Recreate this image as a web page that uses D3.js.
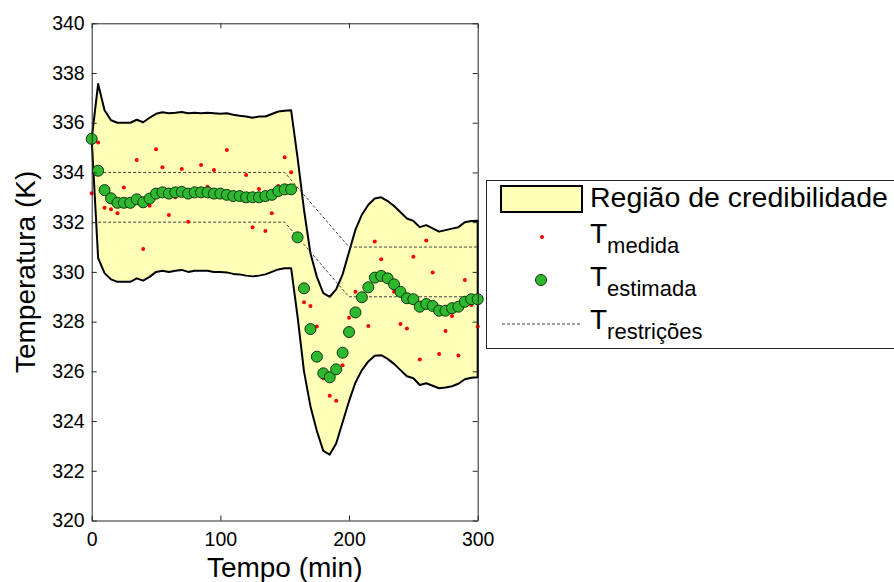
<!DOCTYPE html>
<html>
<head>
<meta charset="utf-8">
<script src="https://cdn.jsdelivr.net/npm/d3@7"></script>
<style>
  body { margin: 0; background: #fff; }
  text { font-family: "Liberation Sans", Arial, sans-serif; fill: #000; }
</style>
</head>
<body>
<div id="chart"></div>
<script>
// time grid (min), one sample every 5 min
const tempo = d3.range(0, 301, 5)

// measured temperature (red dots)
const tMedida = [333.16, 335.21, 332.58, 332.52, 332.36, 333.40, 332.90, 334.50, 330.92, 332.66,
    334.93, 334.21, 332.29, 333.00, 334.14, 332.02, 333.15, 334.30, 333.43, 334.10,
    333.20, 334.90, 333.00, 333.10, 333.90, 331.80, 333.33, 331.65, 332.36, 333.46,
    334.61, 334.01, 331.50, 328.78, 328.63, 327.80, 325.72, 325.02, 324.82, 326.25,
    328.16, 329.20, 329.00, 327.82, 331.22, 330.51, 329.60, 329.20, 327.90, 327.72,
    330.61, 326.48, 331.26, 329.98, 326.70, 327.62, 328.23, 326.64, 329.67, 328.67,
    327.80]

// estimated temperature (green circles)
const tEstimada = [335.35, 334.07, 333.29, 332.96, 332.78, 332.78, 332.78, 332.92, 332.80, 332.95,
    333.15, 333.20, 333.15, 333.20, 333.22, 333.15, 333.20, 333.20, 333.20, 333.15,
    333.15, 333.10, 333.05, 333.05, 333.00, 333.00, 333.00, 333.05, 333.10, 333.25,
    333.32, 333.32, 331.39, 329.34, 327.70, 326.59, 325.92, 325.76, 326.08, 326.75,
    327.58, 328.37, 328.98, 329.38, 329.77, 329.84, 329.74, 329.50, 329.20, 328.94,
    328.90, 328.60, 328.71, 328.63, 328.44, 328.44, 328.54, 328.60, 328.80, 328.90,
    328.90]

// credibility region bounds
const regiaoSup = [335.35, 337.56, 336.50, 336.10, 336.00, 336.00, 336.00, 336.12, 336.02, 336.20,
    336.36, 336.42, 336.38, 336.40, 336.43, 336.38, 336.40, 336.38, 336.40, 336.38,
    336.36, 336.38, 336.32, 336.28, 336.25, 336.20, 336.25, 336.25, 336.35, 336.45,
    336.48, 336.50, 334.60, 332.50, 330.75, 329.80, 329.15, 329.00, 329.30, 329.90,
    330.80, 331.70, 332.30, 332.70, 332.95, 333.00, 332.85, 332.65, 332.40, 332.15,
    332.05, 331.80, 331.88, 331.75, 331.62, 331.68, 331.74, 331.80, 332.00, 332.05,
    332.06]
const regiaoInf = [335.35, 330.55, 329.95, 329.70, 329.60, 329.60, 329.60, 329.74, 329.65, 329.80,
    330.00, 330.05, 330.00, 330.05, 330.08, 330.00, 330.05, 330.05, 330.05, 330.00,
    330.00, 329.98, 329.92, 329.90, 329.85, 329.82, 329.85, 329.90, 330.00, 330.10,
    330.15, 330.15, 328.20, 326.00, 324.60, 323.60, 322.80, 322.65, 323.10, 323.95,
    324.80, 325.55, 326.05, 326.40, 326.63, 326.65, 326.50, 326.30, 326.05, 325.80,
    325.72, 325.45, 325.52, 325.42, 325.32, 325.35, 325.40, 325.50, 325.68, 325.74,
    325.76]

// constraint limits (dashed)
const restTempo = [5, 150, 200, 300]
const restSup = [334, 334, 331, 331]
const restInf = [332, 332, 329, 329]

const xTicks = [0, 100, 200, 300]
const yTicks = d3.range(320, 341, 2)

const series = tempo.map((t, i) => ({
    t,
    med: tMedida[i],
    est: tEstimada[i],
    sup: regiaoSup[i],
    inf: regiaoInf[i]
}))

// Set dimensions
const width = 894
const height = 582
const plot = { left: 91.7, right: 477.7, top: 23.3, bottom: 520.5 }

const svg = d3.select("#chart").append("svg")
    .attr("width", width)
    .attr("height", height)

// Create scales
const xScale = d3.scaleLinear()
    .domain([0, 300])
    .range([plot.left, plot.right])

const yScale = d3.scaleLinear()
    .domain([320, 340])
    .range([plot.bottom, plot.top])

// Credibility region
const area = d3.area()
    .x(d => xScale(d.t))
    .y0(d => yScale(d.inf))
    .y1(d => yScale(d.sup))

svg.append("path")
    .datum(series)
    .attr("d", area)
    .attr("fill", "#ffffb8")
    .attr("stroke", "#000")
    .attr("stroke-width", 2)
    .attr("stroke-linejoin", "round")

// Constraint lines
const restLine = key => d3.line()
    .x((d, i) => xScale(d))
    .y((d, i) => yScale(key[i]))

;[restSup, restInf].forEach(vals => {
    svg.append("path")
        .attr("d", restLine(vals)(restTempo))
        .attr("fill", "none")
        .attr("stroke", "#444")
        .attr("stroke-width", 1)
        .attr("stroke-dasharray", "3,2")
})

// Measured points
svg.append("g").selectAll("circle")
    .data(series)
    .join("circle")
    .attr("cx", d => xScale(d.t))
    .attr("cy", d => yScale(d.med))
    .attr("r", 2)
    .attr("fill", "#ff0000")

// Estimated points
svg.append("g").selectAll("circle")
    .data(series)
    .join("circle")
    .attr("cx", d => xScale(d.t))
    .attr("cy", d => yScale(d.est))
    .attr("r", 5.5)
    .attr("fill", "#2db82d")
    .attr("stroke", "#0f330f")
    .attr("stroke-width", 1)

// Axes (box with inward ticks)
const axisColor = "#262626"
const xAxisBottom = d3.axisBottom(xScale).tickValues(xTicks).tickSizeInner(-5).tickSizeOuter(0).tickPadding(12)
const xAxisTop = d3.axisTop(xScale).tickValues(xTicks).tickSizeInner(-5).tickSizeOuter(0).tickFormat("")
const yAxisLeft = d3.axisLeft(yScale).tickValues(yTicks).tickSizeInner(-5).tickSizeOuter(0).tickPadding(7)
const yAxisRight = d3.axisRight(yScale).tickValues(yTicks).tickSizeInner(-5).tickSizeOuter(0).tickFormat("")

const axes = [
    [xAxisBottom, `translate(0,${plot.bottom})`],
    [xAxisTop, `translate(0,${plot.top})`],
    [yAxisLeft, `translate(${plot.left},0)`],
    [yAxisRight, `translate(${plot.right},0)`]
]
axes.forEach(([gen, tr]) => {
    const g = svg.append("g")
        .attr("transform", tr)
        .call(gen)
    g.selectAll("path, line").attr("stroke", axisColor)
    g.selectAll("text")
        .attr("font-size", "19.5px")
        .attr("fill", "#000")
        .style("font-family", "'Liberation Sans', Arial, sans-serif")
})

// axis labels
svg.append("text")
    .attr("x", (plot.left + plot.right) / 2)
    .attr("y", 577)
    .attr("text-anchor", "middle")
    .attr("font-size", "28px")
    .text("Tempo (min)")

svg.append("text")
    .attr("transform", `translate(35,${(plot.top + plot.bottom) / 2}) rotate(-90)`)
    .attr("text-anchor", "middle")
    .attr("font-size", "28px")
    .text("Temperatura (K)")

// Legend
const legend = svg.append("g")

legend.append("rect")
    .attr("x", 486.5)
    .attr("y", 180.5)
    .attr("width", 420)
    .attr("height", 168)
    .attr("fill", "#fff")
    .attr("stroke", "#262626")
    .attr("stroke-width", 1)

legend.append("rect")
    .attr("x", 501)
    .attr("y", 186)
    .attr("width", 81)
    .attr("height", 26)
    .attr("fill", "#ffffb8")
    .attr("stroke", "#000")
    .attr("stroke-width", 2)

legend.append("text")
    .attr("x", 590)
    .attr("y", 207)
    .attr("font-size", "28.5px")
    .text("Região de credibilidade")

legend.append("circle")
    .attr("cx", 542)
    .attr("cy", 237)
    .attr("r", 2)
    .attr("fill", "#ff0000")

legend.append("circle")
    .attr("cx", 541)
    .attr("cy", 280)
    .attr("r", 5.5)
    .attr("fill", "#2db82d")
    .attr("stroke", "#0f330f")

legend.append("line")
    .attr("x1", 502)
    .attr("x2", 581)
    .attr("y1", 324)
    .attr("y2", 324)
    .attr("stroke", "#444")
    .attr("stroke-dasharray", "3,2")

const subs = [["medida", 243], ["estimada", 286], ["restrições", 329]]
subs.forEach(([s, y]) => {
    const t = legend.append("text")
        .attr("x", 590)
        .attr("y", y)
        .attr("font-size", "28px")
        .text("T")
    t.append("tspan")
        .attr("dy", 10)
        .attr("font-size", "22px")
        .text(s)
})
</script>
</body>
</html>
